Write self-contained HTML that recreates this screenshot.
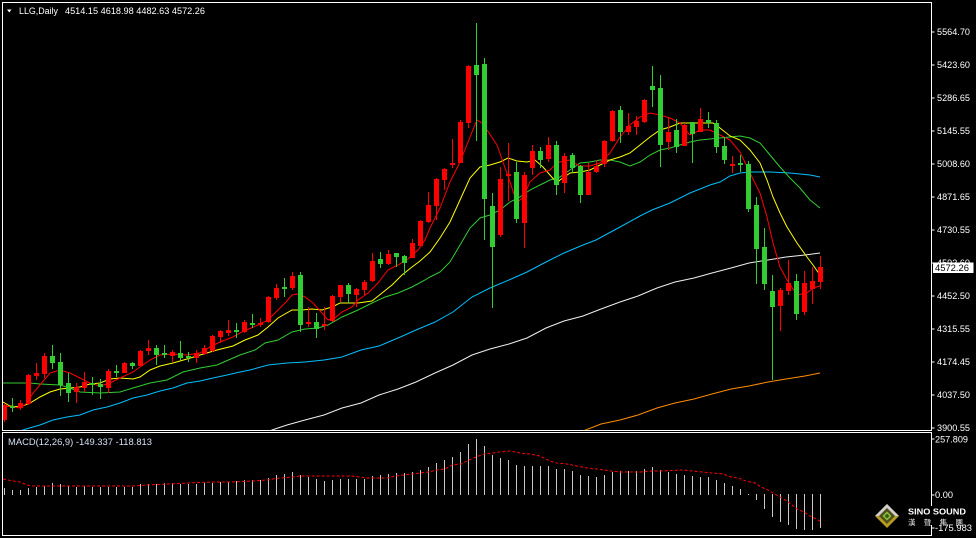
<!DOCTYPE html>
<html><head><meta charset="utf-8"><style>
html,body{margin:0;padding:0;background:#000;}
svg{display:block;}
text{font-family:"Liberation Sans","DejaVu Sans",sans-serif;}
</style></head><body>
<svg width="976" height="538" viewBox="0 0 976 538" xmlns="http://www.w3.org/2000/svg">
<defs>
<clipPath id="cm"><rect x="3" y="3" width="928" height="427"/></clipPath>
<clipPath id="cd"><rect x="3" y="433" width="928" height="102"/></clipPath>
</defs>
<rect x="0" y="0" width="976" height="538" fill="#000"/>

<g clip-path="url(#cm)" fill="none" stroke-width="1">
<!-- orange -->
<polyline stroke="#ff8c00" points="583,431 601,424 620,420 638,415 657,408 675,403 694,399 712,394 731,389 749,386 768,382 786,379 805,376 820,373"/>
<!-- white -->
<polyline stroke="#f0f0f0" points="270,431 272,430 287,425 305,420 324,415 342,408 361,403 379,395 398,389 416,382 435,373 453,365 472,355 490,349 509,344 527,338 546,328 564,321 583,316 601,309 620,302 638,296 657,288 675,282 694,278 712,273 731,268 749,263 768,260 786,257 805,255 820,253"/>
<!-- blue -->
<polyline stroke="#00bfff" points="20,431 26,429 40,425 53,420 67,417 80,415 93,410 107,407 120,403 133,398 147,395 160,391 173,388 187,383 200,381 213,378 227,375 240,372 250,370 268,365 287,363 305,362 324,360 342,357 361,350 379,346 398,338 416,330 435,322 453,312 472,297 490,288 509,280 527,272 546,262 564,253 583,245 596,240 620,227 640,216 652,210 670,203 690,193 700,189 710,185 720,182 730,176 740,173 750,172 770,172 790,173 810,175 820,177"/>
<!-- green -->
<polyline stroke="#32cd32" points="3,383 30,383 40,384 60,385 70,388 80,392 100,393 120,392 133,388 150,383 167,380 183,372 200,368 217,365 233,358 240,355 255,350 265,343 278,340 292,332 305,329 318,328 328,325 342,317 358,310 372,303 385,297 398,293 412,287 425,280 430,277 440,272 450,262 460,245 470,228 480,218 490,215 500,210 510,202 520,197 530,190 540,185 550,180 560,177 580,163 590,162 600,160 610,160 620,162 630,166 640,162 650,155 660,150 670,148 680,145 690,142 700,140 720,138 740,136 750,138 760,143 770,155 780,167 790,178 800,188 810,200 820,208"/>
<!-- yellow -->
<polyline stroke="#ffff00" points="3,402 10,406 20,407 30,403 40,397 50,392 60,389 70,388 80,387 90,384 100,383 110,379 120,378 133,379 140,377 150,370 160,366 173,363 187,359 200,355 217,350 233,346 245,340 258,335 268,327 278,318 292,310 302,310 312,309 322,310 332,307 340,303 358,303 372,301 382,293 392,285 402,275 412,267 420,261 430,252 440,238 450,222 460,200 470,178 480,167 490,165 500,162 508,158 517,161 527,162 535,160 543,167 550,175 557,183 560,180 570,173 580,172 590,170 600,165 610,160 620,157 630,153 640,145 650,137 660,130 670,127 680,123 690,123 700,123 713,123 720,128 730,136 740,140 750,150 760,163 767,180 773,197 780,213 787,227 797,243 807,257 813,265 820,275"/>
<!-- red MA -->
<polyline stroke="#ff0000" points="3,406 13,407 20,408 27,403 33,393 40,385 50,373 60,370 70,373 80,378 90,383 100,386 110,383 120,378 133,372 140,367 150,360 160,355 173,354 187,355 200,353 210,347 220,342 233,337 242,332 258,325 268,320 278,310 285,303 292,295 297,294 305,297 313,303 322,313 328,320 335,318 342,312 352,307 358,300 368,293 378,283 388,270 398,265 408,259 418,250 425,240 430,228 440,208 450,182 460,162 470,137 477,120 482,123 487,130 497,145 503,162 510,182 517,203 523,197 530,182 540,173 550,170 557,163 560,162 570,160 580,166 590,166 600,163 610,153 620,137 630,125 640,117 650,113 660,115 670,118 680,123 690,135 700,130 710,130 720,135 730,140 740,152 750,173 760,193 767,217 773,243 780,267 787,280 797,295 807,293 813,288 820,286"/>

<!-- red candles -->
<path stroke="#ff0000" d="M4.5 403V422M20.5 400V410M28.5 374V405M36.5 363V380M44.5 353V378M76.5 383V403M84.5 372V392M108.5 369V393M124.5 362V373M140.5 350V367M148.5 340V355M172.5 350V362M196.5 350V363M204.5 345V355M212.5 335V352M220.5 330V343M228.5 320V336M244.5 320V333M260.5 318V327M268.5 296V323M276.5 284V300M292.5 272V290M308.5 307V327M324.5 307V330M332.5 295V322M340.5 285V302M356.5 288V307M364.5 280V295M372.5 253V282M388.5 250V265M412.5 239V258M420.5 220V247M428.5 192V223M436.5 178V220M444.5 168V190M452.5 139V168M460.5 120V163M468.5 65V128M500.5 167V237M508.5 143V201M524.5 172V248M532.5 145V175M548.5 137V162M564.5 153V193M588.5 163V195M596.5 160V173M604.5 140V167M612.5 110V142M628.5 113V135M636.5 116V135M644.5 99V123M668.5 117V150M684.5 123V146M700.5 108V132M732.5 156V173M780.5 288V331M788.5 260V295M804.5 271V315M812.5 267V304M820.5 256V289"/>
<path fill="#ff0000" stroke="none" shape-rendering="crispEdges" d="M2 405h5v15h-5zM18 403h5v5h-5zM26 375h5v29h-5zM34 373h5v3h-5zM42 356h5v18h-5zM74 387h5v5h-5zM82 382h5v6h-5zM106 371h5v17h-5zM122 363h5v10h-5zM138 351h5v15h-5zM146 348h5v3h-5zM170 352h5v4h-5zM194 353h5v5h-5zM202 348h5v6h-5zM210 336h5v15h-5zM218 331h5v6h-5zM226 330h5v3h-5zM242 322h5v10h-5zM258 323h5v2h-5zM266 297h5v25h-5zM274 288h5v10h-5zM290 276h5v12h-5zM306 322h5v2h-5zM322 324h5v2h-5zM330 296h5v25h-5zM338 285h5v12h-5zM354 289h5v6h-5zM362 282h5v8h-5zM370 261h5v20h-5zM386 254h5v10h-5zM410 243h5v15h-5zM418 221h5v25h-5zM426 205h5v17h-5zM434 179h5v27h-5zM442 169h5v11h-5zM450 163h5v2h-5zM458 122h5v41h-5zM466 66h5v57h-5zM498 179h5v56h-5zM506 174h5v2h-5zM522 175h5v48h-5zM530 151h5v17h-5zM546 145h5v14h-5zM562 156h5v27h-5zM586 172h5v23h-5zM594 166h5v6h-5zM602 141h5v23h-5zM610 111h5v30h-5zM626 126h5v6h-5zM634 121h5v6h-5zM642 100h5v22h-5zM666 132h5v10h-5zM682 125h5v21h-5zM698 119h5v13h-5zM730 164h5v2h-5zM778 290h5v16h-5zM786 283h5v8h-5zM802 283h5v29h-5zM810 281h5v8h-5zM818 267h5v15h-5z"/>

<!-- green candles -->
<path stroke="#32cd32" d="M12.5 398V412M52.5 345V369M60.5 353V396M68.5 373V402M92.5 377V395M100.5 379V399M116.5 365V377M132.5 362V369M156.5 345V365M164.5 345V358M180.5 341V360M188.5 352V362M236.5 323V338M252.5 314V328M284.5 278V297M300.5 272V332M316.5 313V338M348.5 283V303M380.5 252V268M396.5 253V267M404.5 255V275M476.5 23V141M484.5 58V240M492.5 193V308M516.5 162V223M540.5 147V168M556.5 141V195M572.5 153V173M580.5 165V203M620.5 106V143M652.5 66V107M660.5 75V167M676.5 119V153M692.5 122V163M708.5 112V128M716.5 120V153M724.5 137V164M740.5 155V172M748.5 161V212M756.5 197V284M764.5 228V290M772.5 275V380M796.5 274V320"/>
<path fill="#32cd32" stroke="none" shape-rendering="crispEdges" d="M10 406h5v2h-5zM50 356h5v7h-5zM58 362h5v23h-5zM66 383h5v10h-5zM90 383h5v2h-5zM98 384h5v3h-5zM114 371h5v2h-5zM130 363h5v3h-5zM154 348h5v7h-5zM162 353h5v2h-5zM178 353h5v5h-5zM186 356h5v2h-5zM234 330h5v2h-5zM250 323h5v2h-5zM282 287h5v2h-5zM298 275h5v50h-5zM314 322h5v7h-5zM346 285h5v9h-5zM378 259h5v5h-5zM394 253h5v4h-5zM402 256h5v7h-5zM474 65h5v10h-5zM482 64h5v135h-5zM490 206h5v41h-5zM514 172h5v47h-5zM538 151h5v9h-5zM554 145h5v40h-5zM570 155h5v13h-5zM578 166h5v29h-5zM618 110h5v22h-5zM650 86h5v4h-5zM658 88h5v57h-5zM674 130h5v17h-5zM690 122h5v12h-5zM706 120h5v3h-5zM714 123h5v24h-5zM722 146h5v14h-5zM738 163h5v2h-5zM746 164h5v45h-5zM754 205h5v44h-5zM762 247h5v37h-5zM770 291h5v16h-5zM794 281h5v33h-5z"/>
</g>

<!-- MACD -->
<g clip-path="url(#cd)" fill="none">
<path stroke="#c8c8c8" stroke-width="1" d="M4.5 495V488M12.5 495V490M20.5 495V490M28.5 495V488M36.5 495V487M44.5 495V486M52.5 495V483M60.5 495V484M68.5 495V486M76.5 495V487M84.5 495V486M92.5 495V487M100.5 495V487M108.5 495V487M116.5 495V487M124.5 495V487M132.5 495V487M140.5 495V484M148.5 495V484M156.5 495V484M164.5 495V483M172.5 495V483M180.5 495V484M188.5 495V484M196.5 495V484M204.5 495V483M212.5 495V483M220.5 495V482M228.5 495V482M236.5 495V481M244.5 495V480M252.5 495V480M260.5 495V480M268.5 495V478M276.5 495V475M284.5 495V474M292.5 495V472M300.5 495V475M308.5 495V477M316.5 495V479M324.5 495V481M332.5 495V480M340.5 495V479M348.5 495V479M356.5 495V479M364.5 495V479M372.5 495V476M380.5 495V475M388.5 495V474M396.5 495V473M404.5 495V473M412.5 495V472M420.5 495V470M428.5 495V467M436.5 495V463M444.5 495V460M452.5 495V457M460.5 495V452M468.5 495V444M476.5 495V439M484.5 495V446M492.5 495V455M500.5 495V458M508.5 495V460M516.5 495V465M524.5 495V466M532.5 495V466M540.5 495V466M548.5 495V466M556.5 495V469M564.5 495V469M572.5 495V471M580.5 495V475M588.5 495V476M596.5 495V477M604.5 495V475M612.5 495V472M620.5 495V471M628.5 495V471M636.5 495V471M644.5 495V469M652.5 495V467M660.5 495V470M668.5 495V472M676.5 495V474M684.5 495V475M692.5 495V476M700.5 495V477M708.5 495V477M716.5 495V480M724.5 495V483M732.5 495V486M740.5 495V489M748.5 494V495M756.5 494V500M764.5 494V509M772.5 494V517M780.5 494V522M788.5 494V525M796.5 494V529M804.5 494V530M812.5 494V530M820.5 494V528"/>
<polyline stroke="#ff0000" stroke-width="1" stroke-dasharray="3 2" points="3,479 13,481 20,482 27,485 33,486 73,486 80,486 133,486 147,485 167,484 187,483 213,482 233,482 253,481 267,480 280,478 293,477 300,476 351,476 368,478 388,478 395,476 412,474 428,472 437,470 445,469 452,465 461,464 469,460 476,457 484,454 493,453 499,452 510,451 520,453 530,454 540,456 550,461 557,463 567,464 577,466 587,468 597,469 611,471 621,472 641,472 652,471 662,471 682,470 692,471 702,472 712,473 723,474 731,477 738,478 746,481 755,483 761,487 768,490 773,493 780,497 787,501 792,505 797,509 804,512 810,516 816,519 820,521"/>
</g>

<!-- frame -->
<g fill="none" stroke="#ffffff" stroke-width="1" shape-rendering="crispEdges">
<rect x="2.5" y="2.5" width="929" height="428"/>
<rect x="2.5" y="432.5" width="929" height="103"/>
<path d="M931.5 32h3M931.5 65h3M931.5 98h3M931.5 131h3M931.5 164h3M931.5 197h3M931.5 230h3M931.5 263h3M931.5 296h3M931.5 329h3M931.5 362h3M931.5 395h3M931.5 428h3M931.5 439h3M931.5 495h3M931.5 528h3"/>
</g>

<!-- header -->
<polygon points="7,9.5 11.5,9.5 9.25,12.5" fill="#fff"/>
<text x="19" y="14" font-size="9" fill="#fff" textLength="39" lengthAdjust="spacingAndGlyphs">LLG,Daily</text>
<text x="65" y="14" font-size="9" fill="#fff" textLength="140" lengthAdjust="spacingAndGlyphs">4514.15 4618.98 4482.63 4572.26</text>

<!-- axis labels -->
<g font-size="9" fill="#ffffff">
<text x="937" y="35" textLength="33" lengthAdjust="spacingAndGlyphs">5564.70</text>
<text x="937" y="68" textLength="33" lengthAdjust="spacingAndGlyphs">5423.60</text>
<text x="937" y="101" textLength="33" lengthAdjust="spacingAndGlyphs">5286.65</text>
<text x="937" y="134" textLength="33" lengthAdjust="spacingAndGlyphs">5145.55</text>
<text x="937" y="167" textLength="33" lengthAdjust="spacingAndGlyphs">5008.60</text>
<text x="937" y="200" textLength="33" lengthAdjust="spacingAndGlyphs">4871.65</text>
<text x="937" y="233" textLength="33" lengthAdjust="spacingAndGlyphs">4730.55</text>
<text x="937" y="266" textLength="33" lengthAdjust="spacingAndGlyphs">4593.60</text>
<text x="937" y="299" textLength="33" lengthAdjust="spacingAndGlyphs">4452.50</text>
<text x="937" y="332" textLength="33" lengthAdjust="spacingAndGlyphs">4315.55</text>
<text x="937" y="365" textLength="33" lengthAdjust="spacingAndGlyphs">4174.45</text>
<text x="937" y="398" textLength="33" lengthAdjust="spacingAndGlyphs">4037.50</text>
<text x="937" y="431" textLength="33" lengthAdjust="spacingAndGlyphs">3900.55</text>
<text x="935" y="442.5" textLength="33" lengthAdjust="spacingAndGlyphs">257.809</text>
<text x="935" y="498" textLength="18" lengthAdjust="spacingAndGlyphs">0.00</text>
</g>
<rect x="933" y="262.5" width="40.5" height="10.5" fill="#ffffff"/>
<text x="935" y="271" font-size="9" fill="#000" textLength="34" lengthAdjust="spacingAndGlyphs">4572.26</text>

<!-- MACD label -->
<text x="8" y="445" font-size="9" fill="#d4e0f4" textLength="144" lengthAdjust="spacingAndGlyphs">MACD(12,26,9) -149.337 -118.813</text>

<!-- logo -->
<rect x="904" y="506" width="66" height="19" fill="#000"/>
<polygon points="887,504 899,516 887,528 875,516" fill="#b89a20"/>
<polygon points="887,504 899,516 895,516 887,508 879,516 875,516" fill="#cfcfcf"/>
<polygon points="887,508 895,516 887,524 879,516" fill="#4e4e1c"/>
<polygon points="887,511.5 891.5,516 887,520.5 882.5,516" fill="#8cc63f"/>
<polygon points="887,513.5 889.5,516 887,518.5 884.5,516" fill="#3d5a10"/>
<text x="908" y="514.5" font-size="8.5" font-weight="bold" fill="#ffffff" textLength="58" lengthAdjust="spacingAndGlyphs">SINO SOUND</text>
<text x="908" y="525" font-size="7.5" fill="#e0e0e0" style="font-family:'Liberation Sans','Noto Sans CJK TC',sans-serif" textLength="55" lengthAdjust="spacing">漢聲集團</text>
<text x="935" y="531" font-size="9" fill="#ffffff" textLength="37" lengthAdjust="spacingAndGlyphs">-175.983</text>
</svg>
</body></html>
